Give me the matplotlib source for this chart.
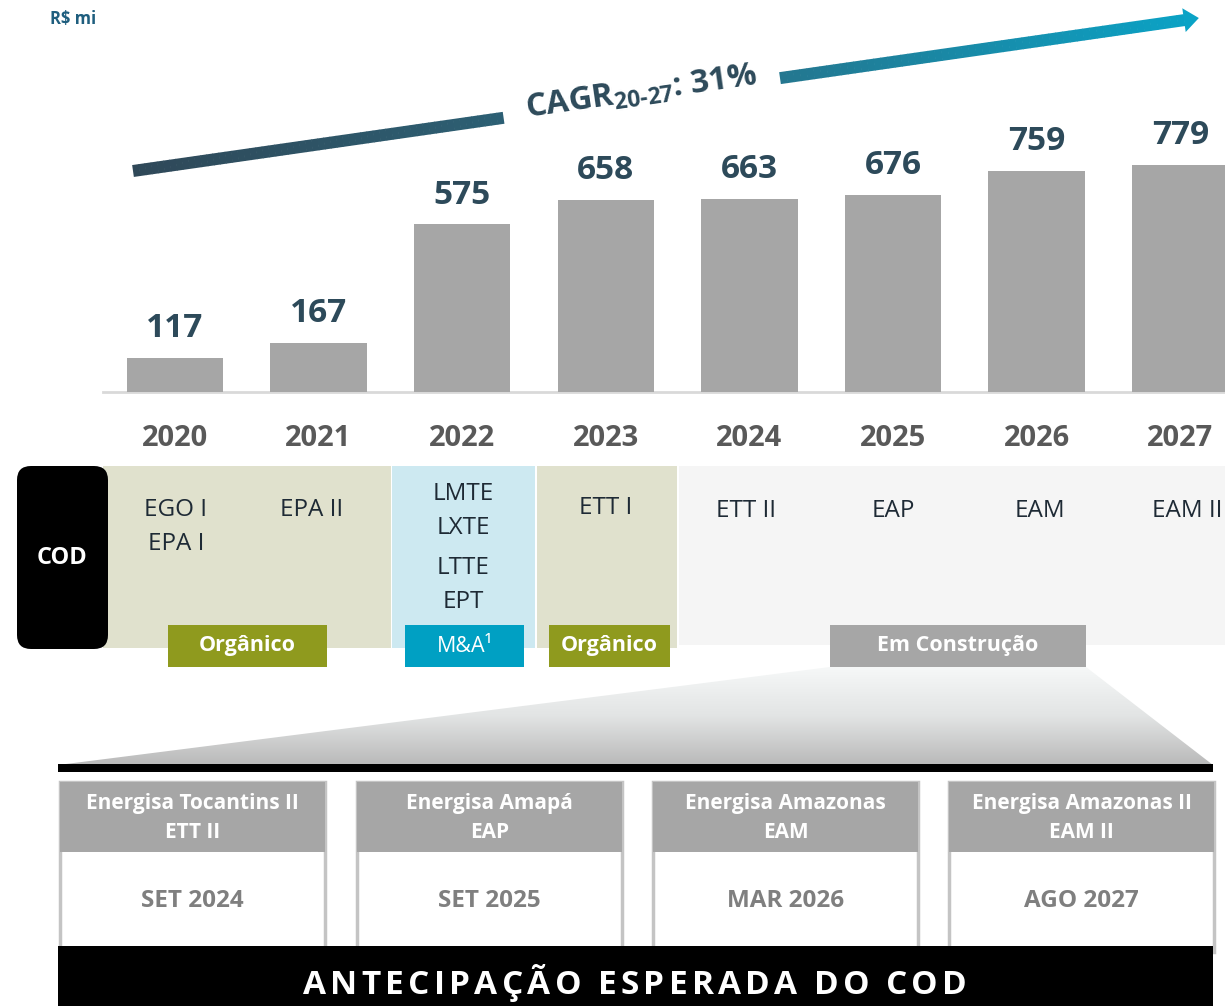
import matplotlib
matplotlib.use("Agg")
import numpy as np
import matplotlib.pyplot as plt
import matplotlib.patches as mpatches
from matplotlib.collections import PolyCollection
from matplotlib.colors import LinearSegmentedColormap

# ── Data ──────────────────────────────────────────────────────────────────
years = ["2020", "2021", "2022", "2023", "2024", "2025", "2026", "2027"]
rap = [117, 167, 575, 658, 663, 676, 759, 779]

cod_assets = [["EGO I", "EPA I"], ["EPA II"], ["LMTE", "LXTE", "LTTE", "EPT"],
              ["ETT I"], ["ETT II"], ["EAP"], ["EAM"], ["EAM II"]]
tag_labels = ["Orgânico", "M&A¹", "Orgânico", "Em Construção"]

box_titles = ["Energisa Tocantins II", "Energisa Amapá", "Energisa Amazonas", "Energisa Amazonas II"]
box_codes = ["ETT II", "EAP", "EAM", "EAM II"]
box_dates = ["SET 2024", "SET 2025", "MAR 2026", "AGO 2027"]

cagr_label = r"CAGR$_{\mathrm{20\text{-}27}}$: 31%"
unit_label = "R$ mi"
footer = "ANTECIPAÇÃO ESPERADA DO COD"

# ── Style ─────────────────────────────────────────────────────────────────
plt.rcParams["font.family"] = ["Open Sans", "DejaVu Sans"]
plt.rcParams["mathtext.fontset"] = "custom"
plt.rcParams["mathtext.rm"] = "Open Sans:bold"
plt.rcParams["mathtext.it"] = "Open Sans:bold"
plt.rcParams["mathtext.bf"] = "Open Sans:bold"

W, H = 1225, 1006
BAR_C = "#a6a6a6"
NUM_C = "#2d4a5a"
YEAR_C = "#595959"
TXT_C = "#1e2a35"
OLIVE_BG = "#e0e1cd"
BLUE_BG = "#cde9f1"
GREY_BG = "#f5f5f5"
OLIVE = "#8f9a1e"
CYAN = "#00a0c3"
TAG_GREY = "#a6a6a6"

fig = plt.figure(figsize=(W / 100, H / 100), dpi=100)
fig.patch.set_facecolor("white")

# overlay axes in pixel units (y downwards) for the diagram parts
ov = fig.add_axes([0, 0, 1, 1], zorder=0)
ov.set_xlim(0, W)
ov.set_ylim(H, 0)
ov.axis("off")

# ── Bar chart ─────────────────────────────────────────────────────────────
BASE = 392            # baseline pixel row
PITCH = 143.6         # px between bar centers
X0 = 175              # px center of first bar
PX_PER_UNIT = 0.2915

ax = fig.add_axes([0, (H - BASE) / H, 1, BASE / H], zorder=2)
ax.patch.set_alpha(0)
x = np.arange(len(years))
ax.bar(x, rap, width=0.67, color=BAR_C, zorder=2)
ax.set_xlim(-X0 / PITCH, (W - X0) / PITCH)
ax.set_ylim(0, BASE / PX_PER_UNIT)
for s in ax.spines.values():
    s.set_visible(False)
ax.set_yticks([])
ax.set_xticks(x, years)
ax.tick_params(axis="x", length=0, pad=23, labelsize=21, labelcolor=YEAR_C)
for lab in ax.get_xticklabels():
    lab.set_fontweight("bold")
ax.axhline(0, xmin=103 / W, xmax=1, color="#d9d9d9", lw=2, zorder=1, clip_on=False)
for xi, v in zip(x, rap):
    ax.annotate(f"{v}", (xi, v), xytext=(0, 15), textcoords="offset points",
                ha="center", va="baseline", fontsize=24, fontweight="bold",
                color=NUM_C)

# ── Unit label ────────────────────────────────────────────────────────────
ov.text(50, 19, unit_label, fontsize=12, fontweight="bold", color="#1f5e7e",
        ha="left", va="center")

# ── CAGR gradient arrow ──────────────────────────────────────────────────
ax0, ay0 = 133, 171
slope = (20 - 171) / (1185 - 133)
cmap = LinearSegmentedColormap.from_list("cagr", ["#2f4858", "#2b6a80", "#0aa3c6"])
half = 6


def shaft(xa, xb, n=60):
    xs = np.linspace(xa, xb, n + 1)
    ang = np.arctan(slope)
    nx, ny = -np.sin(ang), np.cos(ang)
    polys, cols = [], []
    for a, b in zip(xs[:-1], xs[1:] + 0.6):
        ya, yb = ay0 + slope * (a - ax0), ay0 + slope * (b - ax0)
        polys.append([(a + nx * half, ya + ny * half), (b + nx * half, yb + ny * half),
                      (b - nx * half, yb - ny * half), (a - nx * half, ya - ny * half)])
        cols.append(cmap(((a + b) / 2 - ax0) / (1198 - ax0)))
    ov.add_collection(PolyCollection(polys, facecolors=cols, edgecolors="none", zorder=3))


shaft(133, 503)
shaft(780, 1184)
ang = np.arctan(slope)
ux, uy = np.cos(ang), np.sin(ang)
nx, ny = -np.sin(ang), np.cos(ang)
hx, hy = 1184, ay0 + slope * (1184 - ax0)
head = [(hx + nx * 12, hy + ny * 12), (hx + ux * 15, hy + uy * 15), (hx - nx * 12, hy - ny * 12)]
ov.add_patch(mpatches.Polygon(head, closed=True, facecolor=cmap(1.0), edgecolor="none", zorder=3))

ov.text(641, 93, cagr_label, fontsize=23.5, fontweight="bold", color=NUM_C,
        rotation=np.degrees(-ang), rotation_mode="anchor", ha="center", va="center")

# ── COD band ──────────────────────────────────────────────────────────────
TOP, BOT = 466, 648
bgs = [(103, 391, OLIVE_BG), (392, 535, BLUE_BG), (537, 677, OLIVE_BG), (679, W, GREY_BG)]
for xa, xb, c in bgs:
    ov.add_patch(mpatches.Rectangle((xa, TOP), xb - xa, BOT - TOP - (3 if c == GREY_BG else 0),
                                    facecolor=c, edgecolor="none", zorder=1))
ov.add_patch(mpatches.FancyBboxPatch((17 + 14, TOP + 14), 91 - 28, 183 - 28,
                                     boxstyle="round,pad=14", facecolor="black",
                                     edgecolor="none", zorder=2))
ov.text(62, 558, "COD", color="white", fontsize=17, fontweight="bold",
        ha="center", va="center", zorder=3)

cell_x = [176, 312, 463, 606, 746, 893, 1040, 1187]
cell_rows = {0: [510, 544], 1: [510], 2: [494, 528, 568, 602], 3: [508],
             4: [511], 5: [511], 6: [511], 7: [511]}
for i, names in enumerate(cod_assets):
    for name, yy in zip(names, cell_rows[i]):
        ov.text(cell_x[i], yy, name, fontsize=17.5, color=TXT_C,
                ha="center", va="center", zorder=3)

tag_boxes = [(168, 327, OLIVE, "bold"), (405, 524, CYAN, "normal"),
             (549, 670, OLIVE, "bold"), (830, 1086, TAG_GREY, "bold")]
for (xa, xb, c, wgt), lab in zip(tag_boxes, tag_labels):
    ov.add_patch(mpatches.Rectangle((xa, 625), xb - xa, 42, facecolor=c,
                                    edgecolor="none", zorder=4))
    ov.text((xa + xb) / 2, 646, lab, color="white", fontsize=15.5, fontweight=wgt,
            ha="center", va="center", zorder=5)

# ── Zoom trapezoid with vertical gradient ────────────────────────────────
trap = mpatches.Polygon([(830, 667), (1086, 667), (1213, 765), (58, 765)],
                        closed=True, facecolor="none", edgecolor="none")
ov.add_patch(trap)
grad = np.linspace(0, 1, 256).reshape(-1, 1)
gcmap = LinearSegmentedColormap.from_list("trap", ["#f6f8f8", "#e2e4e4", "#b9b9b9"])
img = ov.imshow(grad, cmap=gcmap, extent=(58, 1213, 765, 667), aspect="auto",
                interpolation="bilinear", zorder=1)
img.set_clip_path(trap)
ov.set_xlim(0, W)
ov.set_ylim(H, 0)
ov.add_patch(mpatches.Rectangle((58, 764), 1155, 8, facecolor="black",
                                edgecolor="none", zorder=3))

# ── Project boxes ─────────────────────────────────────────────────────────
box_x = [60, 357, 653, 949]
BW = 265
for bx, t, c, d in zip(box_x, box_titles, box_codes, box_dates):
    ov.add_patch(mpatches.Rectangle((bx, 782), BW, 170, facecolor="white",
                                    edgecolor="#c4c4c4", lw=2.5, zorder=2))
    ov.add_patch(mpatches.Rectangle((bx, 782), BW, 70, facecolor=TAG_GREY,
                                    edgecolor="none", zorder=3))
    ov.text(bx + BW / 2, 804, t, color="white", fontsize=15, fontweight="bold",
            ha="center", va="center", zorder=4)
    ov.text(bx + BW / 2, 832, c, color="white", fontsize=15, fontweight="bold",
            ha="center", va="center", zorder=4)
    ov.text(bx + BW / 2, 901, d, color="#7f7f7f", fontsize=17.5, fontweight="bold",
            ha="center", va="center", zorder=4)

# ── Footer band with letter-spaced caption ───────────────────────────────
ov.add_patch(mpatches.Rectangle((58, 946), 1155, 60, facecolor="black",
                                edgecolor="none", zorder=5))

renderer = fig.canvas.get_renderer()
fs = 24
widths = []
for ch in footer:
    if ch == " ":
        widths.append(None)
        continue
    t = ov.text(0, 0, ch, fontsize=fs, fontweight="bold")
    widths.append(t.get_window_extent(renderer).width)
    t.remove()
target = 664
space_w = 8
letters = sum(w for w in widths if w is not None)
n_gaps = len(footer) - 1
track = (target - letters - space_w * footer.count(" ")) / n_gaps
xc = 635 - target / 2
for ch, w in zip(footer, widths):
    if w is None:
        xc += space_w + track
        continue
    ov.text(xc, 994, ch, fontsize=fs, fontweight="bold", color="white",
            ha="left", va="baseline", zorder=6)
    xc += w + track

fig.savefig("out.png", dpi=100)
